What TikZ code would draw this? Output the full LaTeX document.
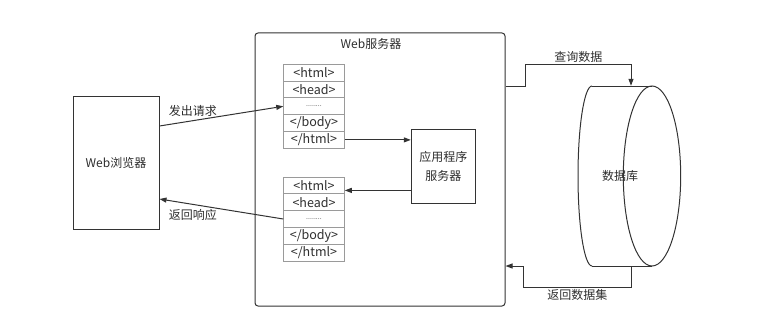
\documentclass[tikz,border=0pt]{standalone}
\usepackage{fontspec}
\setmainfont{Noto Sans CJK SC}
\usetikzlibrary{arrows.meta, positioning}
\definecolor{textgray}{HTML}{2E2E2E}
\definecolor{linegray}{HTML}{333333}
\definecolor{taggray}{HTML}{9A9A9A}

\begin{document}
\begin{tikzpicture}[
    x=1pt, y=-1pt,
    font=\fontsize{12}{14}\selectfont,
    every node/.style={text=textgray},
    box/.style={rectangle, draw=linegray, line width=1pt, align=center, inner sep=0pt},
    tag/.style={rectangle, draw=taggray, line width=0.9pt, minimum width=61.5pt, minimum height=16.8pt, inner sep=0pt, outer sep=0pt, font=\fontsize{12.5}{14}\selectfont},
    dots/.style={tag, font=\fontsize{7}{8}\selectfont},
    arrow/.style={-{Triangle[length=7pt, width=5pt]}, draw=linegray, line width=1pt},
    dbline/.style={draw=linegray, line width=1pt},
    lbl/.style={inner sep=1pt}
]
\useasboundingbox (0,0) rectangle (779,329);

\node[box, minimum width=86pt, minimum height=133pt] (browser) at (116,162.5) {Web浏览器};
\node[box, rounded corners=3pt, minimum width=250pt, minimum height=273pt] (server) at (380,169.5) {};
\node (srvtitle) at (371,44) {Web服务器};

% request page
\node[tag] (s1a) at (314,72.7) {<html>};
\node[tag, below=0pt of s1a] (s1b) {<head>};
\node[dots, below=0pt of s1b] (s1c) {........};
\node[tag, below=0pt of s1c] (s1d) {</body>};
\node[tag, below=0pt of s1d] (s1e) {</html>};

% response page
\node[tag] (s2a) at (314,185.4) {<html>};
\node[tag, below=0pt of s2a] (s2b) {<head>};
\node[dots, below=0pt of s2b] (s2c) {........};
\node[tag, below=0pt of s2c] (s2d) {</body>};
\node[tag, below=0pt of s2d] (s2e) {</html>};

\node[box, minimum width=64pt, minimum height=74pt, font=\fontsize{12}{19}\selectfont] (app) at (443.3,166.3) {应用程序\\服务器};

% database
\node[inner sep=0pt, minimum height=180pt] (db) at (620,176) {数据库};
\draw[dbline] (592,86) -- (652,86) (592,266) -- (652,266);
\draw[dbline] (652,176) ellipse [x radius=28.7pt, y radius=90pt];
\draw[dbline] (592,86) arc [start angle=90, end angle=270, x radius=14pt, y radius=90pt];

\draw[arrow] ([yshift=36.5pt]browser.east) -- node[lbl, pos=0.27, above=3pt] (reqlbl) {发出请求} (s1c.west);
\draw[arrow] (s2c.west) -- node[lbl, pos=0.73, below=3pt] (reslbl) {返回响应} ([yshift=-36.5pt]browser.east);
\draw[arrow] (s1e.east) -- (s1e.east -| app.west);
\draw[arrow] ([yshift=-5pt]s2a.east -| app.west) -- ([yshift=-5pt]s2a.east);
\draw[arrow] ([yshift=83pt]server.east) -- ++(20,0) |- node[lbl, pos=0.75, above=1pt] (qlbl) {查询数据} ([xshift=11pt,yshift=21pt]db.north) -- ([xshift=11pt]db.north);
\draw[arrow] ([xshift=11pt]db.south) -- ([xshift=11pt,yshift=-21pt]db.south) -| node[lbl, pos=0.25, below=1pt] (rlbl) {返回数据集} ([xshift=18pt,yshift=-96.5pt]server.east) -- ([yshift=-96.5pt]server.east);
\end{tikzpicture}
\end{document}
